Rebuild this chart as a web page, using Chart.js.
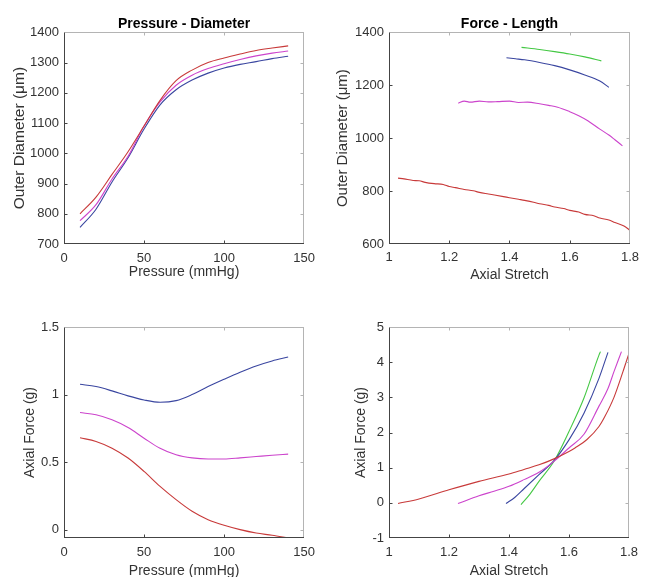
<!DOCTYPE html>
<html><head><meta charset="utf-8">
<script src="https://cdn.jsdelivr.net/npm/chart.js@4/dist/chart.umd.min.js"></script>
<style>
html,body{margin:0;padding:0;background:#fff;overflow:hidden;width:645px;height:577px;position:relative;}
canvas{position:absolute;}
</style></head><body>
<canvas id="c1" width="322" height="288" style="left:0;top:0"></canvas>
<canvas id="c2" width="323" height="288" style="left:322px;top:0"></canvas>
<canvas id="c3" width="322" height="300" style="left:0;top:288px"></canvas>
<canvas id="c4" width="323" height="300" style="left:322px;top:288px"></canvas>
<script>
// ---------- data ----------
const pressure = [10,20,30,40,50,60,70,80,90,100,110,120,130,140];
const pdRed     = [800,855,930,1005,1090,1175,1240,1275,1300,1315,1328,1340,1348,1355];
const pdMagenta = [777,830,915,990,1090,1170,1225,1258,1280,1296,1310,1322,1331,1338];
const pdBlue    = [755,815,905,985,1080,1160,1210,1242,1265,1282,1294,1303,1313,1321];

const flRedX = [1.03,1.05,1.08,1.1,1.12,1.15,1.18,1.2,1.22,1.25,1.28,1.3,1.33,1.35,1.38,1.4,1.43,1.45,1.48,1.5,1.53,1.55,1.58,1.6,1.63,1.65,1.68,1.7,1.73,1.75,1.78,1.8];
const flRedY = [849,846,840,839,833,828,825,817,813,806,801,795,789,785,779,775,769,765,758,752,746,740,734,727,721,712,707,698,691,681,668,652];
const flMagX = [1.23,1.25,1.27,1.3,1.33,1.36,1.4,1.43,1.46,1.5,1.53,1.56,1.6,1.63,1.66,1.7,1.73,1.75,1.775];
const flMagY = [1132,1140,1136,1140,1137,1138,1140,1135,1136,1130,1124,1117,1100,1085,1066,1034,1012,994,971];
const flBlueX = [1.39,1.42,1.45,1.5,1.55,1.6,1.65,1.7,1.73];
const flBlueY = [1304,1300,1296,1286,1274,1258,1239,1216,1192];
const flGreenX = [1.44,1.5,1.55,1.6,1.65,1.705];
const flGreenY = [1343,1335,1327,1318,1307,1292];

const afBlue    = [1.076,1.059,1.027,0.99,0.96,0.943,0.955,1.0,1.059,1.113,1.165,1.212,1.249,1.278];
const afMagenta = [0.867,0.85,0.813,0.756,0.677,0.602,0.554,0.531,0.523,0.523,0.531,0.541,0.551,0.559];
const afRed     = [0.68,0.653,0.603,0.53,0.431,0.32,0.222,0.136,0.074,0.032,0.0,-0.025,-0.042,-0.062];

const fsRedX = [1.03,1.1,1.2,1.3,1.4,1.45,1.5,1.55,1.6,1.62,1.66,1.7,1.72,1.75,1.78,1.8];
const fsRedY = [-0.02,0.11,0.37,0.61,0.82,0.95,1.08,1.25,1.46,1.56,1.8,2.17,2.46,3.0,3.73,4.25];
const fsMagX = [1.23,1.3,1.35,1.4,1.45,1.5,1.55,1.6,1.65,1.7,1.73,1.75,1.775];
const fsMagY = [-0.02,0.2,0.33,0.47,0.66,0.87,1.18,1.56,1.95,2.75,3.25,3.73,4.3];
const fsBlueX = [1.39,1.42,1.45,1.5,1.55,1.6,1.65,1.7,1.73];
const fsBlueY = [-0.02,0.16,0.4,0.8,1.2,1.79,2.55,3.54,4.28];
const fsGreenX = [1.44,1.47,1.5,1.55,1.6,1.65,1.7,1.705];
const fsGreenY = [-0.05,0.25,0.61,1.18,2.03,2.98,4.2,4.3];

const pTicks = [0,50,100,150];
const pTickLabels = ['0','50','100','150'];
const sTicks = [1,1.2,1.4,1.6,1.8];
const sTickLabels = ['1','1.2','1.4','1.6','1.8'];
const odTicks1 = [700,800,900,1000,1100,1200,1300,1400];
const odTicks2 = [600,800,1000,1200,1400];
const afTicks = [0,0.5,1,1.5];
const afTickLabels = ['0','0.5','1','1.5'];
const fsTicks = [-1,0,1,2,3,4,5];

// ---------- styling ----------
const FONT = "'Liberation Sans', Arial, Helvetica, sans-serif";
const C = {red:'#c83a3a', magenta:'#cc44cc', blue:'#3a46a0', green:'#44c844'};
Chart.defaults.font.family = FONT;
Chart.defaults.animation = false;

const boxPlugin = {
  id:'box',
  afterDatasetsDraw(chart){
    const {ctx, chartArea:a, scales:{x,y}} = chart;
    const L=Math.round(a.left)+0.5, R=Math.round(a.right)-0.5, T=Math.round(a.top)+0.5, B=Math.round(a.bottom)-0.5;
    const ln=(x1,y1,x2,y2)=>{ctx.beginPath();ctx.moveTo(x1,y1);ctx.lineTo(x2,y2);ctx.stroke();};
    ctx.save(); ctx.lineWidth=1;
    ctx.strokeStyle='#b4b4b4';
    ln(L,T,R+0.5,T); ln(R,T,R,B);
    x.ticks.forEach(t=>{const p=Math.round(x.getPixelForValue(t.value))+0.5; if(p>L+1&&p<R-1) ln(p,T,p,T+3);});
    y.ticks.forEach(t=>{const p=Math.round(y.getPixelForValue(t.value))+0.5; if(p>T+1&&p<B-1) ln(R,p,R-3,p);});
    ctx.strokeStyle='#444';
    ln(L,T,L,B+0.5); ln(L,B,R+0.5,B);
    x.ticks.forEach(t=>{const p=Math.round(x.getPixelForValue(t.value))+0.5; if(p>L+1&&p<R-1) ln(p,B,p,B-3);});
    y.ticks.forEach(t=>{const p=Math.round(y.getPixelForValue(t.value))+0.5; if(p>T+1&&p<B-1) ln(L,p,L+3,p);});
    ctx.restore();
  }
};
const titlePlugin = {
  id:'ptitle',
  afterDraw(chart, args, opts){
    if(!opts || !opts.text) return;
    const {ctx, chartArea:a} = chart;
    ctx.save();
    ctx.font = 'bold 14px ' + FONT;
    ctx.fillStyle = '#000';
    ctx.textAlign = 'center';
    ctx.textBaseline = 'middle';
    ctx.fillText(opts.text, (a.left + a.right) / 2, a.top - 8.5);
    ctx.restore();
  }
};

function ds(data,color){
  return {data, borderColor:color, borderWidth:1.1, pointRadius:0, fill:false, tension:0.35, cubicInterpolationMode:'monotone'};
}
function xy(xs,ys){ return xs.map((v,i)=>({x:v,y:ys[i]})); }

function make(id, cfg){
  const el=document.getElementById(id);
  const H=el.height, W=el.width;
  return new Chart(el,{
    type:'line',
    data:{datasets:cfg.datasets},
    plugins:[boxPlugin, titlePlugin],
    options:{
      responsive:false, animation:false, events:[],
      layout:{padding:{left:0,right:W-cfg.area[1],top:cfg.area[2],bottom:0}},
      plugins:{
        legend:{display:false}, tooltip:{enabled:false}, title:{display:false},
        ptitle:{text:cfg.title}
      },
      scales:{
        x:{type:'linear', min:cfg.xmin, max:cfg.xmax,
           afterBuildTicks:s=>{s.ticks=cfg.xt.map(v=>({value:v}));},
           afterFit:s=>{s.height=H-cfg.area[3];},
           ticks:{callback:(v,i)=>cfg.xl[i], color:'#333', font:{size:13,family:FONT}, padding:cfg.xpad, maxRotation:0, autoSkip:false},
           grid:{display:false, drawTicks:false}, border:{display:false},
           title:{display:true,text:cfg.xtitle,color:'#333',font:{size:14,family:FONT},padding:{top:0,bottom:H-cfg.xtc-8.4}}},
        y:{type:'linear', min:cfg.ymin, max:cfg.ymax,
           afterBuildTicks:s=>{s.ticks=cfg.yt.map(v=>({value:v}));},
           afterFit:s=>{s.width=cfg.area[0];},
           ticks:{callback:(v,i)=>cfg.yl[i], color:'#333', font:{size:13,family:FONT}, padding:5, autoSkip:false},
           grid:{display:false, drawTicks:false}, border:{display:false},
           title:{display:true,text:cfg.ytitle,color:'#333',font:{size:cfg.yfs,family:FONT},padding:{top:cfg.ytc-cfg.yfs*0.6,bottom:0}}}
      }
    }
  });
}

// area: [left, right, top, bottom] in canvas coords
make('c1',{
  title:'Pressure - Diameter', area:[64,311,32.3,244],
  xmin:0,xmax:150, xt:pTicks, xl:pTickLabels, xpad:7, xtitle:'Pressure (mmHg)', xtc:272,
  ymin:700,ymax:1400, yt:odTicks1, yl:odTicks1.map(String), ytitle:'Outer Diameter (μm)', ytc:20, yfs:15.5,
  datasets:[ds(xy(pressure,pdRed),C.red), ds(xy(pressure,pdMagenta),C.magenta), ds(xy(pressure,pdBlue),C.blue)]
});
make('c2',{
  title:'Force - Length', area:[67,312,32.3,244],
  xmin:1,xmax:1.8, xt:sTicks, xl:sTickLabels, xpad:6, xtitle:'Axial Stretch', xtc:275,
  ymin:600,ymax:1400, yt:odTicks2, yl:odTicks2.map(String), ytitle:'Outer Diameter (μm)', ytc:21, yfs:15,
  datasets:[ds(xy(flRedX,flRedY),C.red), ds(xy(flMagX,flMagY),C.magenta), ds(xy(flBlueX,flBlueY),C.blue), ds(xy(flGreenX,flGreenY),C.green)]
});
make('c3',{
  title:null, area:[64,311,39,250],
  xmin:0,xmax:150, xt:pTicks, xl:pTickLabels, xpad:7, xtitle:'Pressure (mmHg)', xtc:283,
  ymin:-0.062,ymax:1.5, yt:afTicks, yl:afTickLabels, ytitle:'Axial Force (g)', ytc:30, yfs:14,
  datasets:[ds(xy(pressure,afBlue),C.blue), ds(xy(pressure,afMagenta),C.magenta), ds(xy(pressure,afRed),C.red)]
});
make('c4',{
  title:null, area:[67,312,39,250],
  xmin:1,xmax:1.8, xt:sTicks, xl:sTickLabels, xpad:7, xtitle:'Axial Stretch', xtc:283,
  ymin:-1,ymax:5, yt:fsTicks, yl:fsTicks.map(String), ytitle:'Axial Force (g)', ytc:39, yfs:14,
  datasets:[ds(xy(fsRedX,fsRedY),C.red), ds(xy(fsMagX,fsMagY),C.magenta), ds(xy(fsBlueX,fsBlueY),C.blue), ds(xy(fsGreenX,fsGreenY),C.green)]
});
</script>
</body></html>
